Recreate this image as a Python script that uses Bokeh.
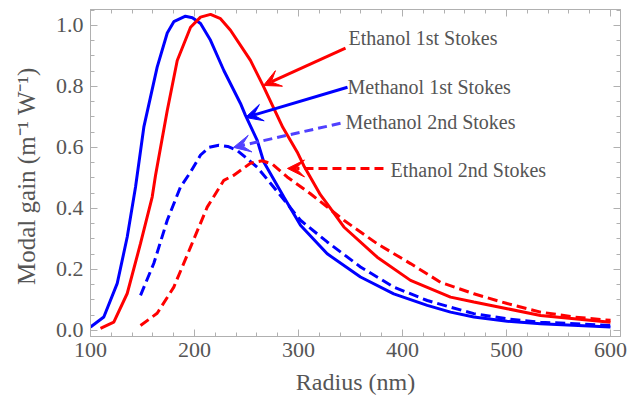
from bokeh.plotting import figure
from bokeh.models import (Range1d, LinearAxis, FixedTicker, Arrow, VeeHead,
                          ColumnDataSource, CustomLabelingPolicy)
from bokeh.core.properties import value
from bokeh.embed import file_html
from bokeh.resources import INLINE

# ---- data ----
meth1_x = [100, 112.8, 125.7, 135.3, 143.3, 151.3, 164.1, 173.8, 180.1, 191.3, 198.0, 205.8,
           215.4, 228.2, 244.2, 249.0, 260.3, 266.6, 285.9, 301.9, 327.6, 359.6, 391.6,
           423.8, 446.2, 468.6, 500.7, 532.7, 600]
meth1_y = [0.011, 0.044, 0.154, 0.306, 0.470, 0.667, 0.863, 0.975, 1.012, 1.030, 1.025, 1.006,
           0.951, 0.852, 0.744, 0.705, 0.623, 0.552, 0.437, 0.345, 0.251, 0.175, 0.120,
           0.082, 0.060, 0.044, 0.030, 0.022, 0.011]

eth1_x = [109.6, 122.4, 135.3, 148.1, 159.3, 162.5, 173.8, 183.4, 196.2, 205.8, 215.4,
          225.0, 234.6, 253.8, 266.3, 285.0, 298.7, 305.1, 321.0, 327.6, 343.6, 375.7, 407.7,
          446.2, 468.6, 500.7, 532.7, 600]
eth1_y = [0.007, 0.027, 0.121, 0.285, 0.437, 0.508, 0.721, 0.885, 0.994, 1.027, 1.036,
          1.022, 0.984, 0.885, 0.800, 0.665, 0.585, 0.540, 0.445, 0.415, 0.339, 0.240, 0.164,
          0.109, 0.093, 0.071, 0.049, 0.027]

meth2_x = [148.1, 160.9, 173.8, 186.5, 196.2, 205.8, 214.0, 223.4, 232.0, 241.1, 260.3,
           276.0, 301.9, 327.6, 359.6, 391.6, 423.8, 446.2, 468.6, 500.7, 532.7, 600]
meth2_y = [0.115, 0.220, 0.361, 0.470, 0.519, 0.575, 0.600, 0.607, 0.603, 0.590, 0.535,
           0.470, 0.361, 0.290, 0.208, 0.142, 0.098, 0.076, 0.055, 0.038, 0.027, 0.016]

eth2_x = [148.1, 164.1, 180.1, 196.2, 212.2, 228.2, 237.5, 253.8, 265.0, 275.0, 289.1,
          311.5, 343.6, 375.7, 407.7, 436.5, 468.6, 500.7, 532.7, 564.7, 600]
eth2_y = [0.016, 0.056, 0.142, 0.273, 0.404, 0.492, 0.508, 0.548, 0.556, 0.545, 0.503,
          0.448, 0.361, 0.284, 0.219, 0.158, 0.120, 0.088, 0.060, 0.044, 0.033]

x_ticks = [100, 200, 300, 400, 500, 600]
y_ticks = [0.0, 0.2, 0.4, 0.6, 0.8, 1.0]
y_tick_labels = {0.0: "0.0", 0.2: "0.2", 0.4: "0.4", 0.6: "0.6", 0.8: "0.8", 1.0: "1.0"}

labels = ["Ethanol 1st Stokes", "Methanol 1st Stokes", "Methanol 2nd Stokes", "Ethanol 2nd Stokes"]
label_x = [348.1, 347.1, 345.2, 388.5]
label_y = [0.957, 0.797, 0.682, 0.525]
arrow_x0 = [345.2, 347.1, 340.4, 381.7]
arrow_y0 = [0.925, 0.797, 0.679, 0.531]
arrow_x1 = [266.3, 249.0, 237.5, 289.4]
arrow_y1 = [0.803, 0.698, 0.600, 0.531]
arrow_colors = ["#ff0000", "#0000ff", "#5040ff", "#ff0000"]
arrow_dash = ["solid", "solid", "9 5", "9 5"]

RED = "#ff0000"
BLUE = "#0000ff"
GRAY = "#555555"
FRAME = "#b0b0b0"
FONT = "Liberation Serif"

p = figure(width=632, height=399, output_backend="svg", toolbar_location=None,
           x_range=Range1d(100, 609.6), y_range=Range1d(-0.02, 1.052),
           min_border_left=90, min_border_right=12, min_border_top=9, min_border_bottom=63)
p.grid.visible = False
p.outline_line_color = FRAME
p.background_fill_color = "white"

p.line(meth1_x, meth1_y, line_color=BLUE, line_width=3)
p.line(eth1_x, eth1_y, line_color=RED, line_width=3)
p.line(meth2_x, meth2_y, line_color=BLUE, line_width=3, line_dash="10 5")
p.line(eth2_x, eth2_y, line_color=RED, line_width=3, line_dash="10 5")

for i in range(4):
    p.add_layout(Arrow(end=VeeHead(size=17, fill_color=arrow_colors[i], line_color=arrow_colors[i]),
                       x_start=arrow_x0[i], y_start=arrow_y0[i], x_end=arrow_x1[i], y_end=arrow_y1[i],
                       line_color=arrow_colors[i], line_width=3, line_dash=arrow_dash[i]))

src = ColumnDataSource(dict(x=label_x, y=label_y, t=labels))
p.text(x="x", y="y", text="t", source=src, text_font=value(FONT), text_font_size="20px",
       text_color=GRAY, text_align="left", text_baseline="middle")

x_minor = [v for v in range(100, 620, 20)]
y_minor = [round(v * 0.05, 2) for v in range(0, 22)]

def style(ax, size="22px"):
    ax.axis_line_color = FRAME
    ax.major_tick_line_color = FRAME
    ax.minor_tick_line_color = FRAME
    ax.major_tick_in = 7
    ax.major_tick_out = 0
    ax.minor_tick_in = 4
    ax.minor_tick_out = 0
    ax.major_label_text_font = FONT
    ax.major_label_text_color = GRAY
    ax.major_label_text_font_size = size
    ax.axis_label_text_font = FONT
    ax.axis_label_text_color = GRAY
    ax.axis_label_text_font_size = "24px"
    ax.axis_label_text_font_style = "normal"

p.xaxis.ticker = FixedTicker(ticks=x_ticks, minor_ticks=x_minor)
p.yaxis.ticker = FixedTicker(ticks=y_ticks, minor_ticks=y_minor)
p.yaxis.major_label_overrides = y_tick_labels
p.xaxis.axis_label = "Radius (nm)"
p.yaxis.axis_label = "Modal gain (m\u207b\u00b9  W\u207b\u00b9)"
style(p.xaxis[0])
style(p.yaxis[0])
p.yaxis.axis_label_text_font_size = "25px"
p.xaxis.major_label_standoff = 6
p.xaxis.axis_label_standoff = 9
p.yaxis.major_label_standoff = 7
p.yaxis.axis_label_standoff = 13

hide = CustomLabelingPolicy(code="for (const i of Array.from(indices)) { indices.unset(i) } return indices")
hide2 = CustomLabelingPolicy(code="for (const i of Array.from(indices)) { indices.unset(i) } return indices")
top = LinearAxis(ticker=FixedTicker(ticks=x_ticks, minor_ticks=x_minor), major_label_policy=hide)
right = LinearAxis(ticker=FixedTicker(ticks=y_ticks, minor_ticks=y_minor), major_label_policy=hide2)
style(top, "0px")
style(right, "0px")
top.major_label_standoff = 0
right.major_label_standoff = 0
p.add_layout(top, "above")
p.add_layout(right, "right")

open("out.html", "w").write(file_html(p, INLINE))
